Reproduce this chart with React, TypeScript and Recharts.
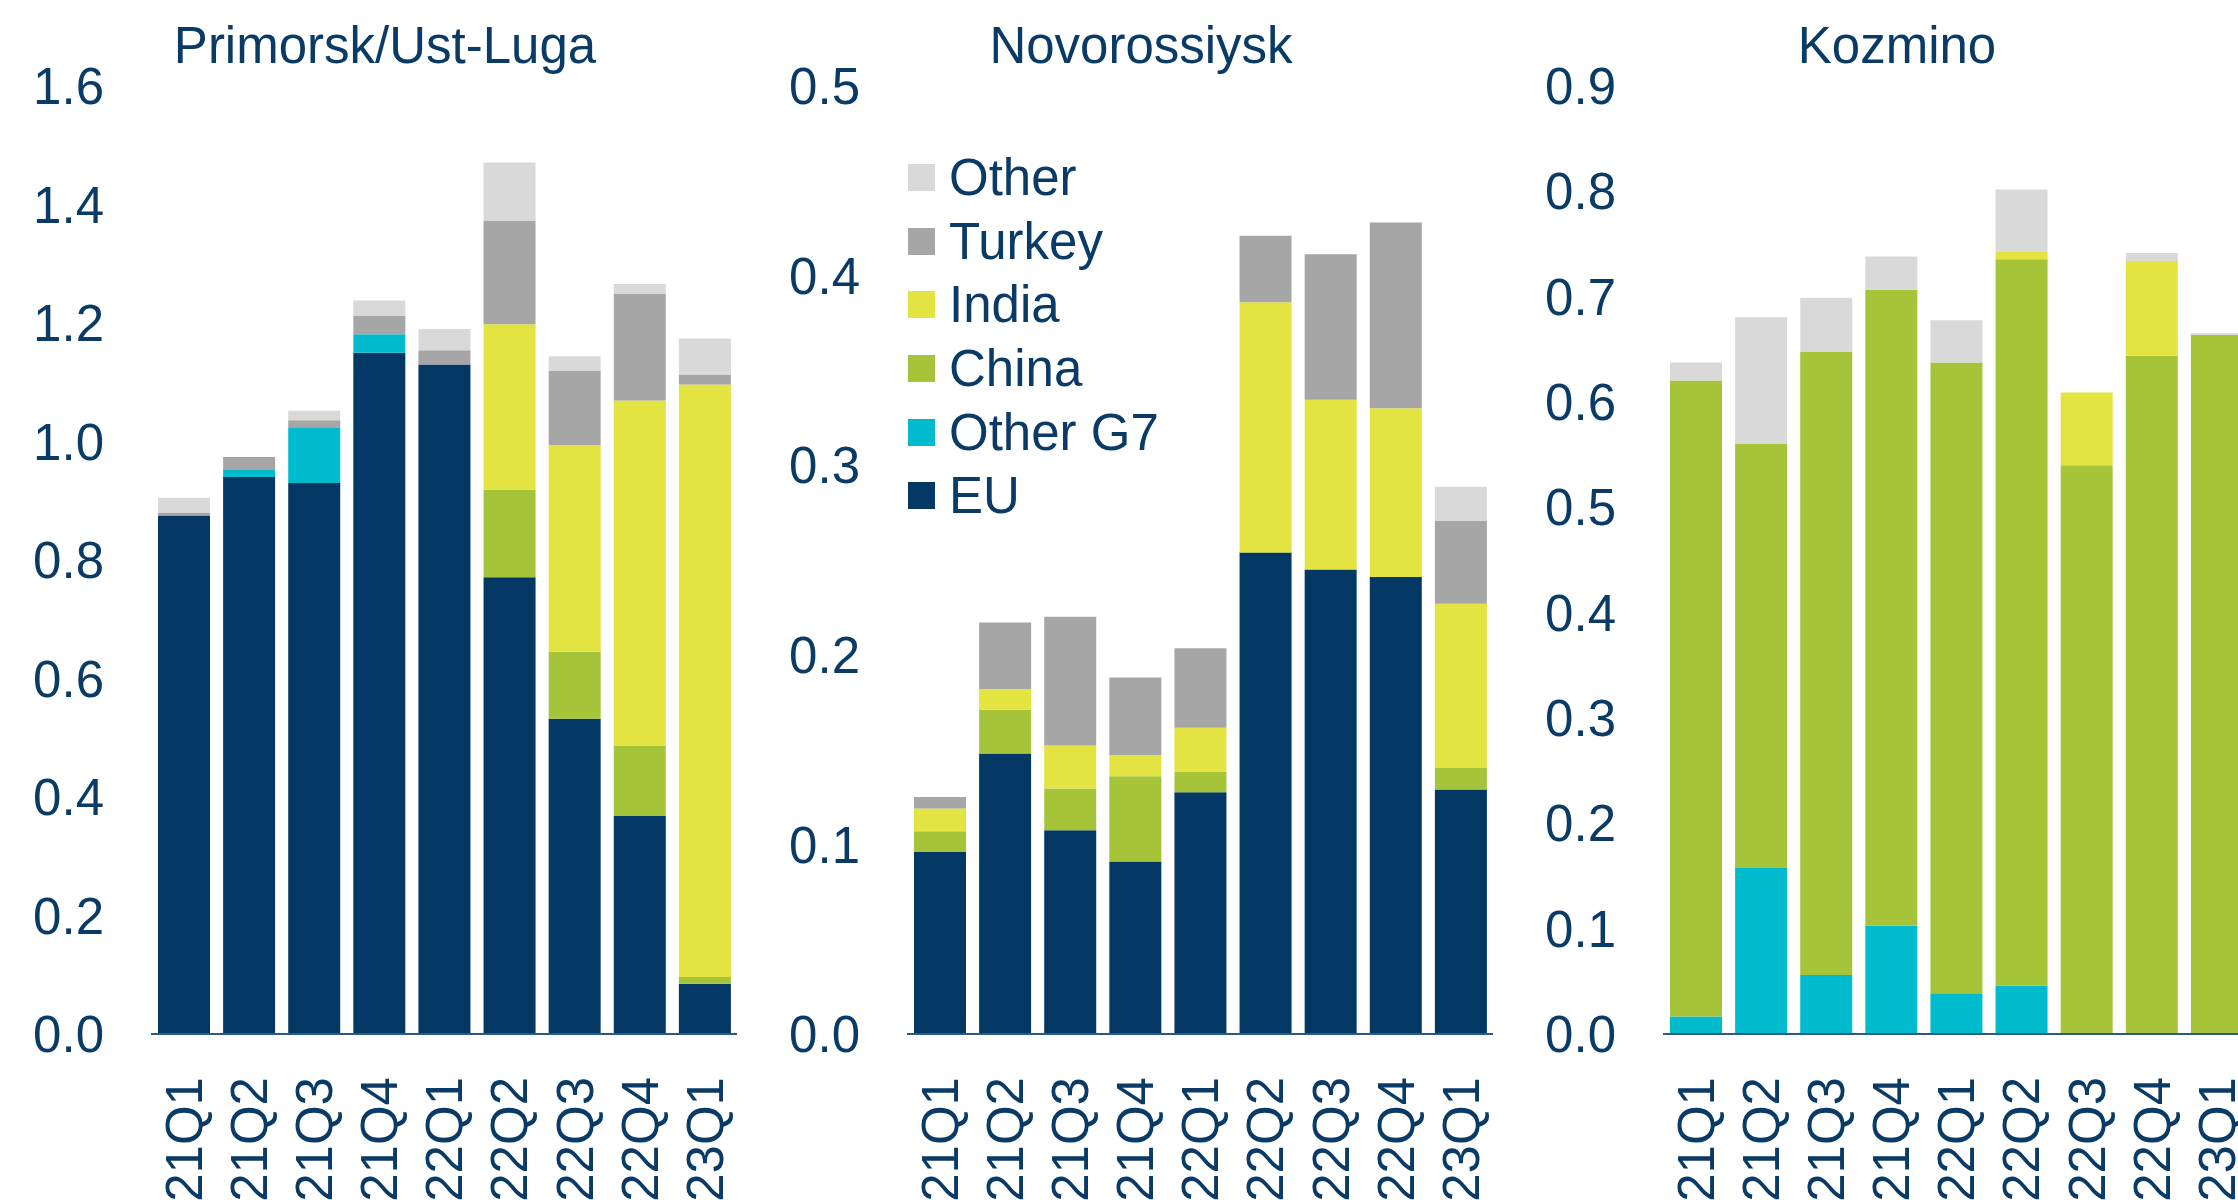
import { BarChart, Bar, XAxis, YAxis, Legend } from 'recharts';

const FONT = '"Liberation Sans", Arial, sans-serif';
const TEXT = '#0A3A66';
const AXIS = '#2B5A86';

const QUARTERS = ['21Q1', '21Q2', '21Q3', '21Q4', '22Q1', '22Q2', '22Q3', '22Q4', '23Q1'];

// Primorsk/Ust-Luga
const PRIM_EU = [0.875, 0.94, 0.93, 1.15, 1.13, 0.771, 0.532, 0.368, 0.085];
const PRIM_G7 = [0, 0.012, 0.094, 0.031, 0, 0, 0, 0, 0];
const PRIM_CHINA = [0, 0, 0, 0, 0, 0.148, 0.113, 0.119, 0.011];
const PRIM_INDIA = [0, 0, 0, 0, 0, 0.279, 0.349, 0.582, 1.0];
const PRIM_TURKEY = [0.005, 0.022, 0.012, 0.031, 0.024, 0.175, 0.125, 0.18, 0.017];
const PRIM_OTHER = [0.025, 0, 0.016, 0.026, 0.036, 0.098, 0.025, 0.017, 0.061];

// Novorossiysk
const NOVO_EU = [0.096, 0.148, 0.1075, 0.091, 0.1275, 0.254, 0.245, 0.241, 0.129];
const NOVO_G7 = [0, 0, 0, 0, 0, 0, 0, 0, 0];
const NOVO_CHINA = [0.011, 0.023, 0.022, 0.045, 0.011, 0, 0, 0, 0.0116];
const NOVO_INDIA = [0.012, 0.011, 0.0226, 0.011, 0.023, 0.132, 0.0895, 0.089, 0.0863];
const NOVO_TURKEY = [0.006, 0.035, 0.068, 0.041, 0.042, 0.035, 0.0767, 0.098, 0.0437];
const NOVO_OTHER = [0, 0, 0, 0, 0, 0, 0, 0, 0.018];

// Kozmino
const KOZ_EU = [0, 0, 0, 0, 0, 0, 0, 0, 0];
const KOZ_G7 = [0.0165, 0.1575, 0.056, 0.103, 0.0386, 0.046, 0, 0, 0];
const KOZ_CHINA = [0.604, 0.403, 0.592, 0.6036, 0.599, 0.6896, 0.54, 0.644, 0.6636];
const KOZ_INDIA = [0, 0, 0, 0, 0, 0.0076, 0.069, 0.0898, 0];
const KOZ_TURKEY = [0, 0, 0, 0, 0, 0, 0, 0, 0];
const KOZ_OTHER = [0.017, 0.12, 0.051, 0.0316, 0.04, 0.0586, 0, 0.0076, 0.002];

const SERIES = [
  { key: 'eu', name: 'EU', color: '#033864' },
  { key: 'g7', name: 'Other G7', color: '#00BACD' },
  { key: 'china', name: 'China', color: '#A6C43A' },
  { key: 'india', name: 'India', color: '#E3E342' },
  { key: 'turkey', name: 'Turkey', color: '#A6A6A6' },
  { key: 'other', name: 'Other', color: '#D9D9D9' },
];

function buildRows(eu: number[], g7: number[], china: number[], india: number[], turkey: number[], other: number[]) {
  return QUARTERS.map((q, i) => ({
    q,
    eu: eu[i],
    g7: g7[i],
    china: china[i],
    india: india[i],
    turkey: turkey[i],
    other: other[i],
  }));
}

const PANELS = [
  {
    title: 'Primorsk/Ust-Luga',
    rows: buildRows(PRIM_EU, PRIM_G7, PRIM_CHINA, PRIM_INDIA, PRIM_TURKEY, PRIM_OTHER),
    ticks: [0, 0.2, 0.4, 0.6, 0.8, 1.0, 1.2, 1.4, 1.6],
    max: 1.6,
  },
  {
    title: 'Novorossiysk',
    rows: buildRows(NOVO_EU, NOVO_G7, NOVO_CHINA, NOVO_INDIA, NOVO_TURKEY, NOVO_OTHER),
    ticks: [0, 0.1, 0.2, 0.3, 0.4, 0.5],
    max: 0.5,
    legend: true,
  },
  {
    title: 'Kozmino',
    rows: buildRows(KOZ_EU, KOZ_G7, KOZ_CHINA, KOZ_INDIA, KOZ_TURKEY, KOZ_OTHER),
    ticks: [0, 0.1, 0.2, 0.3, 0.4, 0.5, 0.6, 0.7, 0.8, 0.9],
    max: 0.9,
  },
];

const PANEL_W = 760;
const PANEL_STEP = 756;
const CHART_H = 1202;

function QuarterTick({ x, y, payload }: any) {
  return (
    <text
      x={x}
      y={y}
      transform={`rotate(-90, ${x}, ${y})`}
      textAnchor="end"
      dy="0.36em"
      fill={TEXT}
      fontSize={51}
      fontFamily={FONT}
    >
      {payload.value}
    </text>
  );
}

// legend lists the series top-down, same order as the stack
function LegendBox() {
  const items = [...SERIES].reverse();
  return (
    <div style={{ fontFamily: FONT, fontSize: 51, color: TEXT }}>
      {items.map((s) => (
        <div key={s.key} style={{ display: 'flex', alignItems: 'center', height: 63.6 }}>
          <span style={{ display: 'inline-block', width: 27, height: 27, background: s.color, marginRight: 14 }} />
          <span>{s.name}</span>
        </div>
      ))}
    </div>
  );
}

export default function App() {
  return (
    <div
      style={{
        position: 'fixed',
        left: 0,
        top: 0,
        width: 2238,
        height: 1202,
        overflow: 'hidden',
        background: '#fff',
      }}
    >
      {PANELS.map((p, idx) => (
        <div
          key={p.title}
          style={{ position: 'absolute', left: idx * PANEL_STEP, top: 0, width: PANEL_W, height: CHART_H }}
        >
          <div
            style={{
              position: 'absolute',
              left: 385,
              top: 20,
              transform: 'translateX(-50%)',
              whiteSpace: 'nowrap',
              fontFamily: FONT,
              fontSize: 51,
              lineHeight: '51px',
              color: TEXT,
            }}
          >
            {p.title}
          </div>
          <BarChart
            width={PANEL_W}
            height={CHART_H}
            data={p.rows}
            margin={{ top: 86, right: 23, bottom: 0, left: 0 }}
            barSize={52}
          >
            <XAxis
              dataKey="q"
              height={168}
              tickLine={false}
              tickSize={0}
              tickMargin={43}
              axisLine={{ stroke: AXIS, strokeWidth: 2 }}
              tick={<QuarterTick />}
              interval={0}
            />
            <YAxis
              width={151}
              domain={[0, p.max]}
              ticks={p.ticks}
              axisLine={false}
              tickLine={false}
              tickSize={0}
              tickMargin={47}
              tickFormatter={(v: number) => v.toFixed(1)}
              tick={{ fill: TEXT, fontSize: 51, fontFamily: FONT }}
              allowDataOverflow
            />
            {p.legend && (
              <Legend
                layout="vertical"
                align="center"
                verticalAlign="middle"
                wrapperStyle={{ left: 152, top: 146, width: 400 }}
                content={<LegendBox />}
              />
            )}
            {SERIES.map((s) => (
              <Bar
                key={s.key}
                dataKey={s.key}
                name={s.name}
                stackId="a"
                fill={s.color}
                isAnimationActive={false}
              />
            ))}
          </BarChart>
        </div>
      ))}
    </div>
  );
}
